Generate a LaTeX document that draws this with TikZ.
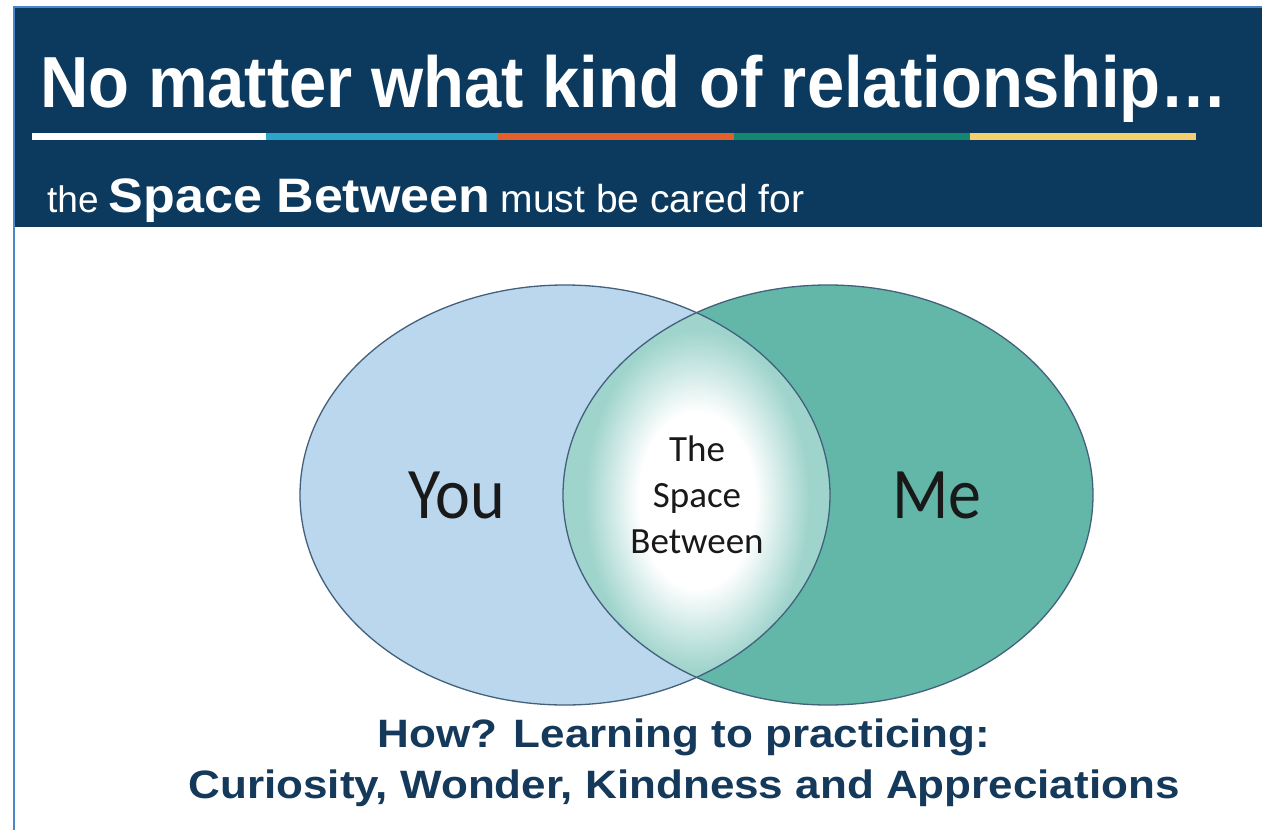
\documentclass[tikz,border=0pt]{standalone}
\usepackage{graphicx}
\usepackage{fontspec}
\setmainfont{Liberation Sans}
\newfontfamily\carlito{Carlito}
\usepackage{tikz}
\usetikzlibrary{positioning}
\definecolor{navy}{HTML}{0C3A5E}
\definecolor{frame}{HTML}{4A86C8}
\definecolor{barblue}{HTML}{2BA5C8}
\definecolor{barorange}{HTML}{E2612B}
\definecolor{bargreen}{HTML}{138770}
\definecolor{baryellow}{HTML}{F3CF6E}
\definecolor{youblue}{HTML}{BAD7EE}
\definecolor{meteal}{HTML}{63B7A9}
\definecolor{lens}{HTML}{9FD4CC}
\definecolor{rim}{HTML}{43607C}
\definecolor{ink}{HTML}{14395A}
\pgfdeclareradialshading{glow}{\pgfpoint{0bp}{0bp}}{color(0bp)=(white); color(13bp)=(white); color(25bp)=(lens); color(50bp)=(lens)}

\begin{document}
\begin{tikzpicture}[x=1pt, y=-1pt,
    ring/.style={draw=rim, line width=1.3pt},
    venn/.style={inner sep=0pt, text=black!90},
    howtxt/.style={inner sep=0pt, text=ink, anchor=base,
                   font=\bfseries\fontsize{44}{51}\selectfont},
  ]
  \useasboundingbox (0,0) rectangle (1262,830);
  \fill[white] (0,0) rectangle (1262,830);

  % Header band and page frame
  \fill[navy] (14,8) rectangle (1262,227);
  \draw[frame, line width=2.2pt] (14,830) -- (14,7) -- (1262,7);

  % Title
  \node[anchor=base west, inner sep=0pt, text=white,
        font=\bfseries\fontsize{67}{80}\selectfont] (title) at (40,107)
        {\scalebox{1}[1.08]{No matter what kind of relationship…}};

  % Colour rule
  \foreach \a/\b/\c in {32/266/white, 266/498/barblue, 498/734/barorange,
                        734/970/bargreen, 970/1196/baryellow}
    \fill[\c] (\a,133) rectangle (\b,140);

  % Subtitle
  \node[anchor=base west, inner sep=0pt, text=white] (subtitle) at (47,212)
        {\fontsize{37}{44}\selectfont the
         {\bfseries\fontsize{52}{60}\selectfont\scalebox{1}[.93]{Space Between}}
         {\fontsize{39}{44}\selectfont must be cared for}};

  % Venn circles
  \fill[youblue] (565,495) ellipse [x radius=265pt, y radius=210pt];
  \fill[meteal] (828,495) ellipse [x radius=265pt, y radius=210pt];
  \begin{scope}
    \clip (565,495) ellipse [x radius=265pt, y radius=210pt];
    \clip (828,495) ellipse [x radius=265pt, y radius=210pt];
    \fill[lens] (450,250) rectangle (950,750);
    \shade[shading=glow] (697,500) ellipse [x radius=112pt, y radius=170pt];
  \end{scope}
  \draw[ring] (565,495) ellipse [x radius=265pt, y radius=210pt];
  \draw[ring] (828,495) ellipse [x radius=265pt, y radius=210pt];

  % Labels in the circles
  \node[venn, anchor=base, font=\carlito\fontsize{66}{70}\selectfont] (you) at (457,518)
        {\scalebox{1}[1.1]{You}};
  \node[venn, anchor=base, font=\carlito\fontsize{66}{70}\selectfont] (me) at (937,518)
        {\scalebox{1}[1.1]{Me}};
  \node[venn, align=center, font=\carlito\fontsize{37}{46}\selectfont] (between) at (697,495)
        {The\\Space\\Between};

  % Closing lines
  \node[howtxt] (how) at (684,747) {\scalebox{1}[.9]{How? Learning to practicing:}};
  \node[howtxt] (virtues) at (684,798)
        {\scalebox{1}[.9]{Curiosity, Wonder, Kindness and Appreciations}};
\end{tikzpicture}
\end{document}
